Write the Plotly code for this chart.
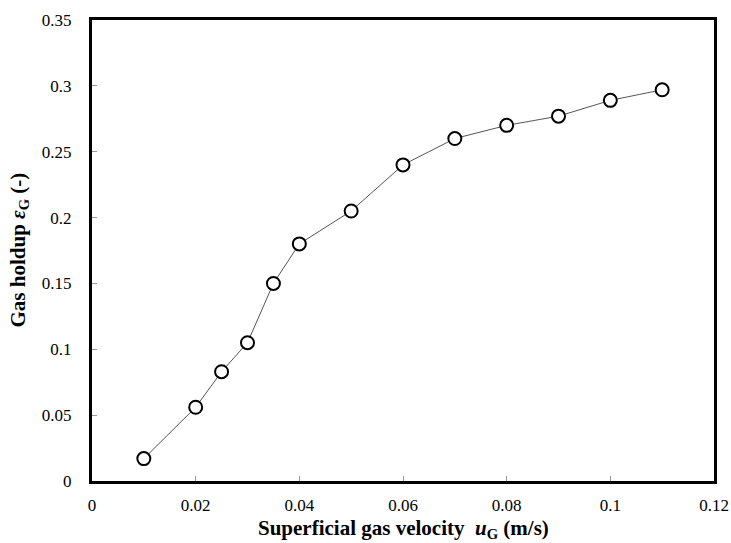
import plotly.graph_objects as go

u_g = [0.01, 0.02, 0.025, 0.03, 0.035, 0.04, 0.05, 0.06, 0.07, 0.08, 0.09, 0.10, 0.11]
eps_g = [0.017, 0.056, 0.083, 0.105, 0.150, 0.180, 0.205, 0.240, 0.260, 0.270, 0.277, 0.289, 0.297]

x_ticks = [0, 0.02, 0.04, 0.06, 0.08, 0.1, 0.12]
x_ticktext = ["0", "0.02", "0.04", "0.06", "0.08", "0.1", "0.12"]
y_ticks = [0, 0.05, 0.1, 0.15, 0.2, 0.25, 0.3, 0.35]
y_ticktext = ["0", "0.05", "0.1", "0.15", "0.2", "0.25", "0.3", "0.35"]

x_title = "<b>Superficial gas velocity&nbsp;&nbsp;<i>u</i><sub>G</sub> (m/s)</b>"
y_title = "<b>Gas holdup <i>ε</i><sub>G</sub> (-)</b>"

font_family = "Liberation Serif"

fig = go.Figure()
fig.add_trace(go.Scatter(
    x=u_g, y=eps_g, mode="lines+markers",
    line=dict(color="#555555", width=1),
    marker=dict(symbol="circle", size=13, color="white",
                line=dict(color="black", width=2)),
    showlegend=False,
))

axis_common = dict(
    showgrid=False, zeroline=False, automargin=False,
    showline=True, linecolor="black", linewidth=3, mirror=True,
    ticks="inside", ticklen=5, tickwidth=1, tickcolor="#999999",
    tickfont=dict(family=font_family, size=17, color="black"),
)

fig.update_xaxes(range=[0, 0.12], tickvals=x_ticks, ticktext=x_ticktext,
                 ticklabelstandoff=7, **axis_common)
fig.update_yaxes(range=[0, 0.35], tickvals=y_ticks, ticktext=y_ticktext,
                 ticklabelstandoff=14, **axis_common)

fig.add_annotation(text=x_title, xref="paper", yref="paper", x=0.5, y=0,
                   xanchor="center", yanchor="middle", yshift=-48,
                   showarrow=False,
                   font=dict(family=font_family, size=21, color="black"))
fig.add_annotation(text=y_title, xref="paper", yref="paper", x=0, y=0.5,
                   xanchor="center", yanchor="middle", xshift=-74,
                   textangle=-90, showarrow=False,
                   font=dict(family=font_family, size=21, color="black"))

fig.update_layout(
    width=731, height=543,
    margin=dict(l=92, r=17, t=20, b=62),
    paper_bgcolor="white", plot_bgcolor="white",
    font=dict(family=font_family, color="black"),
)

fig.write_html("out.html")
